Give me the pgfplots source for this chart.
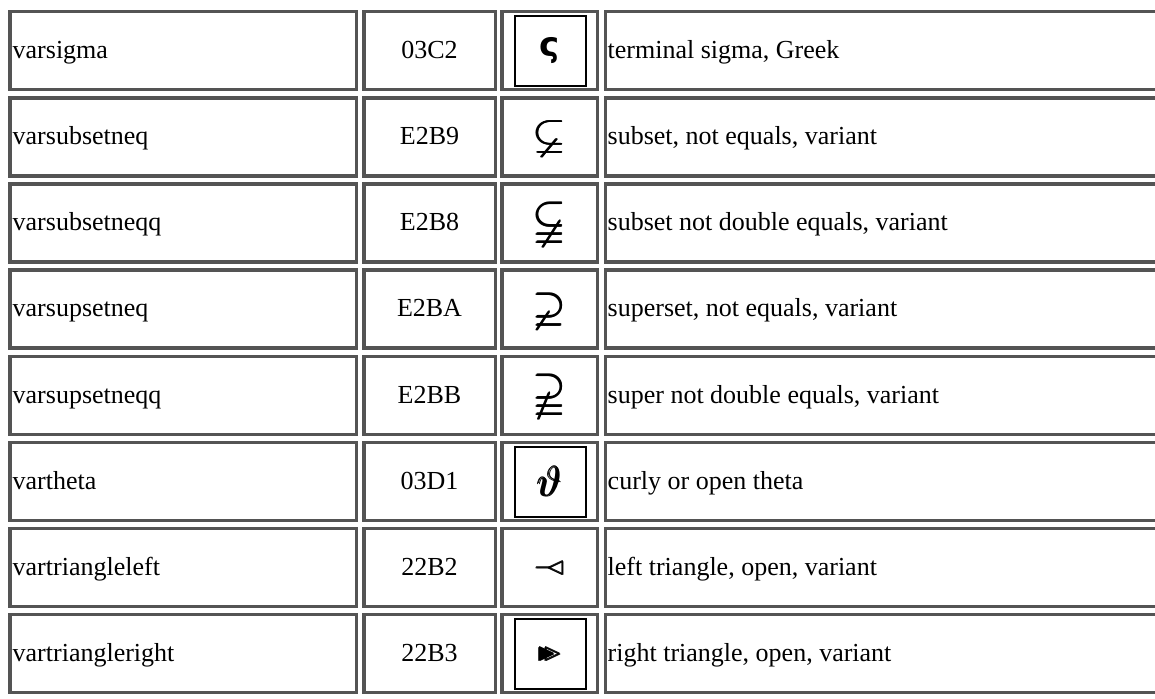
\documentclass[border=0pt]{standalone}
\usepackage{amsmath}
\usepackage{amssymb}
\usepackage{graphicx}
\usepackage{fontspec}
\setmainfont{Liberation Serif}
\newfontfamily\symfont{DejaVu Sans}
\usepackage{pgfplots}
\pgfplotsset{compat=1.18}
\definecolor{bord}{RGB}{84,84,84}
% #1 row index, #2 name, #3 code, #4 symbol, #5 description
\newcommand\tabrow[5]{%
  \draw[bord,line width=3.5pt] (axis cs:9.75,{10+86.14*#1+1.75}) rectangle (axis cs:356.25,{10+86.14*#1+81.5-1.75});
  \draw[bord,line width=3.5pt] (axis cs:363.75,{10+86.14*#1+1.75}) rectangle (axis cs:495.25,{10+86.14*#1+81.5-1.75});
  \draw[bord,line width=3.5pt] (axis cs:501.75,{10+86.14*#1+1.75}) rectangle (axis cs:597.25,{10+86.14*#1+81.5-1.75});
  \draw[bord,line width=3.5pt] (axis cs:1160,{10+86.14*#1+1.75}) -- (axis cs:605.25,{10+86.14*#1+1.75}) -- (axis cs:605.25,{10+86.14*#1+81.5-1.75}) -- (axis cs:1160,{10+86.14*#1+81.5-1.75});
  \node[anchor=base west,inner sep=0pt,font=\fontsize{26}{30}\selectfont] at (axis cs:12.5,{10+86.14*#1+48.5}) {#2};
  \node[anchor=base,inner sep=0pt,font=\fontsize{26}{30}\selectfont] at (axis cs:429.5,{10+86.14*#1+48.5}) {#3};
  \node[anchor=center,inner sep=0pt] at (axis cs:550,{10+86.14*#1+41}) {#4};
  \node[anchor=base west,inner sep=0pt,font=\fontsize{26}{30}\selectfont] at (axis cs:607.5,{10+86.14*#1+48.5}) {#5};
}
\newcommand\symbox[1]{%
  \draw[black,line width=2pt] (axis cs:515,{10+86.14*#1+6}) rectangle (axis cs:586,{10+86.14*#1+76});
}
\newcommand\bigsym[1]{\fontsize{42}{48}\selectfont$\pmb{#1}$}
\begin{document}
\begin{tikzpicture}
\begin{axis}[width=1155pt,height=698pt,scale only axis,
  xmin=0,xmax=1155,ymin=0,ymax=698,y dir=reverse,
  axis lines=none,clip=true]
\tabrow{0}{varsigma}{03C2}{\raisebox{-2pt}{\symfont\bfseries\fontsize{34}{40}\selectfont ς}}{terminal sigma, Greek}
\tabrow{1}{varsubsetneq}{E2B9}{\bigsym{\varsubsetneq}}{subset, not equals, variant}
\tabrow{2}{varsubsetneqq}{E2B8}{\bigsym{\varsubsetneqq}}{subset not double equals, variant}
\tabrow{3}{varsupsetneq}{E2BA}{\bigsym{\varsupsetneq}}{superset, not equals, variant}
\tabrow{4}{varsupsetneqq}{E2BB}{\bigsym{\varsupsetneqq}}{super not double equals, variant}
\tabrow{5}{vartheta}{03D1}{\scalebox{1.7}{\fontsize{38}{44}\selectfont$\pmb{\vartheta}$}}{curly or open theta}
\tabrow{6}{vartriangleleft}{22B2}{\fontsize{24}{28}\selectfont$\pmb{-\mkern-10mu\vartriangleleft}$}{left triangle, open, variant}
\tabrow{7}{vartriangleright}{22B3}{\fontsize{24}{28}\selectfont$\pmb{\blacktriangleright\mkern-9mu\vartriangleright}$}{right triangle, open, variant}
\symbox{0}
\symbox{5}
\symbox{7}
\end{axis}
\pgfresetboundingbox
\path[use as bounding box] (current axis.south west) rectangle (current axis.north east);
\end{tikzpicture}
\end{document}
